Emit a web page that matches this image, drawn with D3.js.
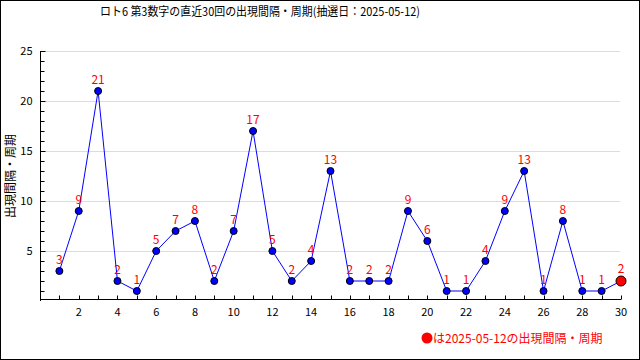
<!DOCTYPE html>
<meta charset="utf-8">
<style>
body { margin: 0; background: #fff; }
svg { font-family: "Noto Sans CJK JP", "DejaVu Sans", sans-serif; }
.grid line { stroke: #dcdcdc; }
.axis text { font-size: 11px; fill: #000; }
</style>
<body>
<script src="https://cdn.jsdelivr.net/npm/d3@7"></script>
<script>

var title = "ロト6 第3数字の直近30回の出現間隔・周期(抽選日：2025-05-12)";
var yLabel = "出現間隔・周期";
var legendText = "は2025-05-12の出現間隔・周期";

// draws 1..30 (oldest to latest)
var draws = d3.range(1, 31);
var gaps = [3, 9, 21, 2, 1, 5, 7, 8, 2, 7, 17, 5, 2, 4, 13, 2, 2, 2, 9, 6, 1, 1, 4, 9, 13, 1, 8, 1, 1, 2];
var yTicks = [5, 10, 15, 20, 25];
var xTicks = [2, 4, 6, 8, 10, 12, 14, 16, 18, 20, 22, 24, 26, 28, 30];

var W = 640, H = 360;
var margin = {top: 51, right: 19, bottom: 60, left: 40};

var svg = d3.select("body").append("svg")
    .attr("width", W)
    .attr("height", H);

// outer frame
svg.append("rect")
    .attr("x", 0.5).attr("y", 0.5)
    .attr("width", W - 1).attr("height", H - 1)
    .attr("fill", "#fff")
    .attr("stroke", "#000");

var x = d3.scaleLinear().domain([0, 30]).range([margin.left, W - margin.right]);
var y = d3.scaleLinear().domain([0, 25]).range([H - margin.bottom + 1, margin.top]);

// title (the original sits left of centre)
svg.append("text")
    .attr("x", 100).attr("y", 16)
    .attr("textLength", 320)
    .attr("lengthAdjust", "spacingAndGlyphs")
    .style("font-size", "12px")
    .text(title);

// horizontal grid
svg.append("g")
    .attr("class", "grid")
    .selectAll("line")
    .data(yTicks)
  .enter().append("line")
    .attr("x1", margin.left).attr("x2", x(30) - 1)
    .attr("y1", function(d) { return Math.round(y(d)) + 0.5; })
    .attr("y2", function(d) { return Math.round(y(d)) + 0.5; });

// y axis with minor ticks pointing inward
var yAxis = svg.append("g")
    .attr("class", "axis")
    .attr("transform", "translate(" + (margin.left + 0.5) + ",0)");
yAxis.append("line")
    .attr("y1", y(25)).attr("y2", y(0))
    .attr("stroke", "#000");
yAxis.selectAll(".minor")
    .data(d3.range(1, 26))
  .enter().append("line")
    .attr("x1", 0)
    .attr("x2", function(d) { return d % 5 === 0 ? 5 : 4; })
    .attr("y1", function(d) { return Math.round(y(d)) + 0.5; })
    .attr("y2", function(d) { return Math.round(y(d)) + 0.5; })
    .attr("stroke", "#000");
yAxis.selectAll("text")
    .data(yTicks)
  .enter().append("text")
    .attr("x", -8)
    .attr("y", function(d) { return y(d) + 4; })
    .attr("text-anchor", "end")
    .text(function(d) { return d; });

// x axis
var xAxis = svg.append("g")
    .attr("class", "axis")
    .attr("transform", "translate(0," + (y(0) - 1.5) + ")");
xAxis.append("line")
    .attr("x1", margin.left).attr("x2", x(30))
    .attr("stroke", "#000");
xAxis.selectAll(".tk")
    .data(draws)
  .enter().append("line")
    .attr("x1", function(d) { return Math.round(x(d)) + 0.5; })
    .attr("x2", function(d) { return Math.round(x(d)) + 0.5; })
    .attr("y1", 0).attr("y2", -4)
    .attr("stroke", "#000");
xAxis.selectAll("text")
    .data(xTicks)
  .enter().append("text")
    .attr("x", function(d) { return x(d); })
    .attr("y", 16)
    .attr("text-anchor", "middle")
    .text(function(d) { return d; });

// y axis title
svg.append("text")
    .attr("transform", "translate(9," + ((y(0) + y(25)) / 2) + ") rotate(-90)")
    .attr("text-anchor", "middle")
    .attr("dominant-baseline", "central")
    .style("font-size", "12px")
    .text(yLabel);

// line
var line = d3.line()
    .x(function(d, i) { return x(draws[i]); })
    .y(function(d) { return y(d); });

svg.append("path")
    .datum(gaps)
    .attr("d", line)
    .attr("fill", "none")
    .attr("stroke", "#0000ff")
    .attr("stroke-width", 1);

// points
svg.selectAll(".pt")
    .data(gaps)
  .enter().append("circle")
    .attr("cx", function(d, i) { return x(draws[i]); })
    .attr("cy", function(d) { return y(d); })
    .attr("r", function(d, i) { return i === gaps.length - 1 ? 5 : 3.5; })
    .attr("fill", function(d, i) { return i === gaps.length - 1 ? "#ff0000" : "#0000ff"; })
    .attr("stroke", "#000")
    .attr("stroke-width", 1);

// value labels
svg.selectAll(".lbl")
    .data(gaps)
  .enter().append("text")
    .attr("x", function(d, i) { return x(draws[i]); })
    .attr("y", function(d, i) { return y(d) - (i === gaps.length - 1 ? 8 : 7); })
    .attr("text-anchor", "middle")
    .attr("fill", "#ff0000")
    .style("font-size", "12px")
    .text(function(d) { return d; });

// legend
var lg = svg.append("g").attr("transform", "translate(427,338)");
lg.append("circle")
    .attr("cx", 0).attr("cy", 0).attr("r", 5.5)
    .attr("fill", "#ff0000");
lg.append("text")
    .attr("x", 6).attr("y", 4.5)
    .attr("fill", "#ff0000")
    .style("font-size", "12px")
    .text(legendText);

</script>
</body>
